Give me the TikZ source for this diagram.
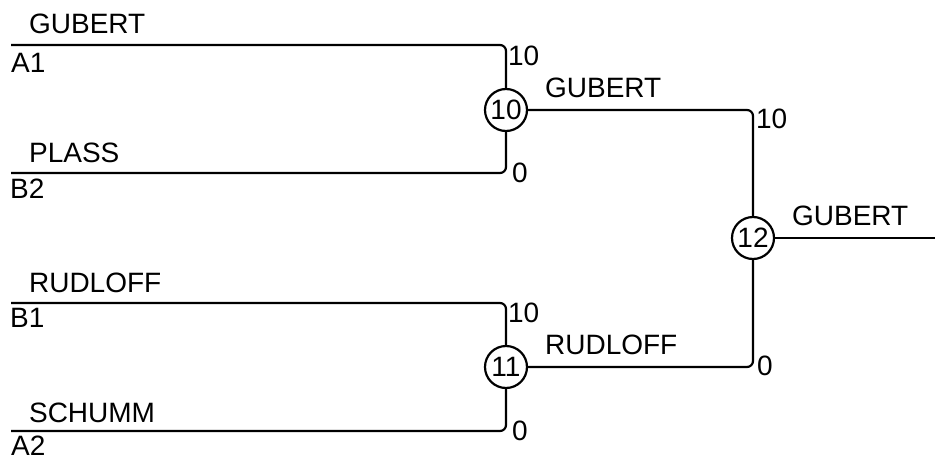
\documentclass[tikz,border=0pt]{standalone}
\usepackage{fontspec}
\setmainfont{Liberation Sans}
\begin{document}
\begin{tikzpicture}[x=1pt,y=-1pt, line width=2.2pt,
  txt/.style={font=\fontsize{28}{28}\selectfont, inner sep=0pt, anchor=base west},
  match/.style={draw, circle, minimum size=42pt, inner sep=0pt, font=\fontsize{28}{28}\selectfont},
  wire/.style={rounded corners=6pt}]
\useasboundingbox (0,0) rectangle (935,455);
% start points
\coordinate (a1) at (11,45);
\coordinate (b2) at (11,173);
\coordinate (b1) at (11,303);
\coordinate (a2) at (11,431);
\coordinate (out) at (935,238);
% matches
\node[match] (m10) at (506,110) {10};
\node[match] (m11) at (506,367) {11};
\node[match] (m12) at (753,238) {12};
% wires
\draw[wire] (a1) -| (m10.north);
\draw[wire] (b2) -| (m10.south);
\draw[wire] (b1) -| (m11.north);
\draw[wire] (a2) -| (m11.south);
\draw[wire] (m10.east) -| (m12.north);
\draw[wire] (m11.east) -| (m12.south);
\draw (m12.east) -- (out);
% player names and seeds
\node[txt] (n1) at (28,34) {GUBERT};
\node[txt] (s1) at (10,72) {A1};
\node[txt] (n2) at (28,162) {PLASS};
\node[txt] (s2) at (9,198) {B2};
\node[txt] (n3) at (28,292) {RUDLOFF};
\node[txt] (s3) at (9,327) {B1};
\node[txt] (n4) at (28,422) {SCHUMM};
\node[txt] (s4) at (10,455) {A2};
% winners
\node[txt] (w10) at (544,97) {GUBERT};
\node[txt] (w11) at (544,354) {RUDLOFF};
\node[txt] (w12) at (791,225) {GUBERT};
% scores
\node[txt] (c1) at (507,65) {10};
\node[txt] (c2) at (511,182) {0};
\node[txt] (c3) at (507,322) {10};
\node[txt] (c4) at (511,440) {0};
\node[txt] (c5) at (755,128) {10};
\node[txt] (c6) at (756,375) {0};
\end{tikzpicture}
\end{document}
